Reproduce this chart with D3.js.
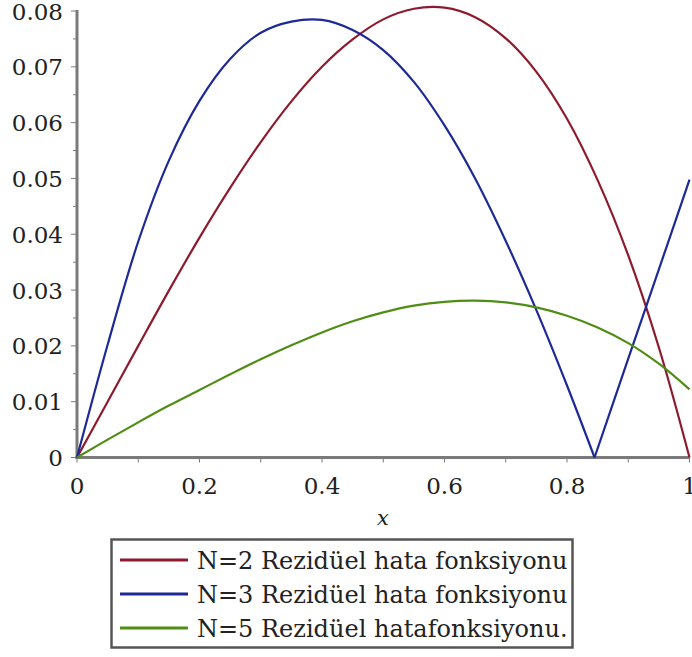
<!DOCTYPE html>
<html><head><meta charset="utf-8">
<script src="https://cdn.jsdelivr.net/npm/d3@7"></script>
<style>html,body{margin:0;padding:0;background:#fff;}svg{display:block;}</style>
</head><body>
<script>
const xGrid = [0,0.05,0.1,0.15,0.2,0.25,0.3,0.35,0.4,0.45,0.5,0.55,0.6,0.65,0.7,0.75,0.8,0.85,0.9,0.95,1];
const redVals = [0,0.0100,0.0200,0.0299,0.0394,0.0483,0.0565,0.0638,0.0700,0.0749,0.0785,0.0804,0.0806,0.0789,0.0751,0.0691,0.0607,0.0497,0.0362,0.0197,0];
const blueX = [0,0.05,0.1,0.15,0.2,0.25,0.3,0.35,0.4,0.45,0.5,0.55,0.6,0.65,0.7,0.75,0.8,0.845,0.9,0.95,1];
const blueVals = [0,0.0202,0.0387,0.0532,0.0639,0.0714,0.0761,0.0781,0.0784,0.0766,0.0730,0.0673,0.0595,0.0500,0.0388,0.0264,0.0129,0,0.0177,0.0337,0.0498];
const greenVals = [0,0.0032,0.0063,0.0093,0.0121,0.0149,0.0176,0.0201,0.0224,0.0244,0.0260,0.0272,0.0279,0.0281,0.0278,0.0269,0.0254,0.0233,0.0205,0.0168,0.0122];
const yTickVals = [0,0.01,0.02,0.03,0.04,0.05,0.06,0.07,0.08];
const yTickLabels = ["0","0.01","0.02","0.03","0.04","0.05","0.06","0.07","0.08"];
const xTickVals = [0,0.2,0.4,0.6,0.8,1];
const xTickLabels = ["0","0.2","0.4","0.6","0.8","1"];
const seriesNames = ["N=2 Rezidüel hata fonksiyonu","N=3 Rezidüel hata fonksiyonu","N=5 Rezidüel hatafonksiyonu."];
const seriesColors = ["#8e1b2d","#1d2a96","#4f8d14"];
const xAxisTitle = "x";

const FONT = "DejaVu Serif";
const W = 692, H = 657;
const svg = d3.select("body").append("svg").attr("width", W).attr("height", H);
svg.append("rect").attr("width", W).attr("height", H).attr("fill", "#fff");

const x = d3.scaleLinear().domain([0,1]).range([77, 689.5]);
const y = d3.scaleLinear().domain([0,0.08]).range([457.5, 11]);
const axisColor = "#7a7a7a";

// y axis ticks (major every 0.01, minor every 0.005)
const gy = svg.append("g").attr("transform", `translate(${x(0)},0)`);
d3.range(0, 17).forEach(i => {
  const v = i * 0.005;
  const major = i % 2 === 0;
  gy.append("line").attr("x1", major ? -6 : -4).attr("x2", 0)
    .attr("y1", y(v)).attr("y2", y(v)).attr("stroke", axisColor).attr("stroke-width", 1);
});
gy.append("line").attr("x1", 0).attr("x2", 0).attr("y1", y(0.08) - 1).attr("y2", y(0) + 1.5)
  .attr("stroke", axisColor).attr("stroke-width", 3);
yTickVals.forEach((v, i) => {
  svg.append("text").attr("x", 63).attr("y", y(v) + 8.5).attr("text-anchor", "end")
    .attr("font-family", FONT).attr("font-size", 23).attr("fill", "#222").text(yTickLabels[i]);
});

// x axis
const gx = svg.append("g").attr("transform", `translate(0,${y(0)})`);
d3.range(0, 11).forEach(i => {
  const v = i / 10;
  gx.append("line").attr("x1", x(v)).attr("x2", x(v)).attr("y1", 0).attr("y2", 5)
    .attr("stroke", axisColor).attr("stroke-width", 1);
});
gx.append("line").attr("x1", x(0) - 1.5).attr("x2", x(1)).attr("y1", 0).attr("y2", 0)
  .attr("stroke", axisColor).attr("stroke-width", 3);
xTickVals.forEach((v, i) => {
  svg.append("text").attr("x", x(v)).attr("y", 494).attr("text-anchor", "middle")
    .attr("font-family", FONT).attr("font-size", 23).attr("fill", "#222").text(xTickLabels[i]);
});
svg.append("text").attr("x", 383).attr("y", 525).attr("text-anchor", "middle")
  .attr("font-family", FONT).attr("font-style", "italic").attr("font-size", 21).attr("fill", "#222").text(xAxisTitle);

// series: split at interior zero minima so the V kink stays sharp
function pieces(xs, vs) {
  const pts = xs.map((xv, i) => [xv, vs[i]]);
  const out = []; let cur = [];
  pts.forEach((p, i) => {
    cur.push(p);
    if (i > 0 && i < pts.length - 1 && p[1] === 0) { out.push(cur); cur = [p]; }
  });
  out.push(cur);
  return out;
}
const line = d3.line().x(d => x(d[0])).y(d => y(d[1])).curve(d3.curveCatmullRom.alpha(0.5));
const series = [[xGrid, redVals], [blueX, blueVals], [xGrid, greenVals]];
series.forEach((s, k) => {
  pieces(s[0], s[1]).forEach(seg => {
    svg.append("path").attr("d", line(seg)).attr("fill", "none")
      .attr("stroke", seriesColors[k]).attr("stroke-width", 2.2).attr("stroke-linejoin", "round");
  });
});

// legend
svg.append("rect").attr("x", 111.5).attr("y", 539.5).attr("width", 461).attr("height", 108)
  .attr("fill", "#fff").attr("stroke", "#555").attr("stroke-width", 2.5);
seriesNames.forEach((n, i) => {
  const ly = 560 + i * 34;
  svg.append("line").attr("x1", 120).attr("x2", 188).attr("y1", ly).attr("y2", ly)
    .attr("stroke", seriesColors[i]).attr("stroke-width", 3);
  svg.append("text").attr("x", 197).attr("y", ly + 9)
    .attr("font-family", FONT).attr("font-size", 24).attr("fill", "#222").text(n);
});
</script>
</body></html>
